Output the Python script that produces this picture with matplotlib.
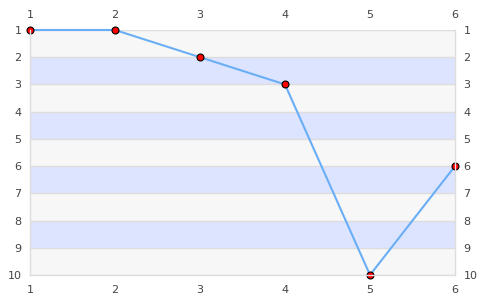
import numpy as np
import matplotlib.pyplot as plt

x = [1, 2, 3, 4, 5, 6]
y = [1, 1, 2, 3, 10, 6]
xticks = [1, 2, 3, 4, 5, 6]
yticks = [1, 2, 3, 4, 5, 6, 7, 8, 9, 10]

fig = plt.figure(figsize=(4.85, 3.0), dpi=100)
ax = fig.add_axes([30/485, 25/300, 425/485, 245/300])

band_colors = ['#f7f7f7', '#dde4ff']
for i in range(len(yticks) - 1):
    ax.axhspan(yticks[i], yticks[i + 1], color=band_colors[i % 2], lw=0, zorder=0)
for t in yticks:
    ax.axhline(t, color='#dddddd', lw=1, zorder=0.5)

ax.plot(x, y, color='#6aaef5', lw=1.5, zorder=2, clip_on=False)
ax.plot(x, y, 'o', ms=5, mfc='#ff0000', mec='#000000', mew=0.8,
        zorder=3, clip_on=False)

ax.set_xlim(1, 6)
ax.set_ylim(10, 1)
ax.set_xticks(xticks)
ax.set_yticks(yticks)

for s in ['left', 'bottom', 'right']:
    ax.spines[s].set_color('#dddddd')
    ax.spines[s].set_linewidth(1)
    ax.spines[s].set_zorder(4)
ax.spines['top'].set_visible(False)

ax.tick_params(axis='both', length=0, labelsize=8, labelcolor='#444444')
ax.tick_params(axis='x', top=True, labeltop=True, pad=7)
ax.tick_params(axis='y', right=True, labelright=True, pad=6)

fig.savefig('out.png', dpi=100)
